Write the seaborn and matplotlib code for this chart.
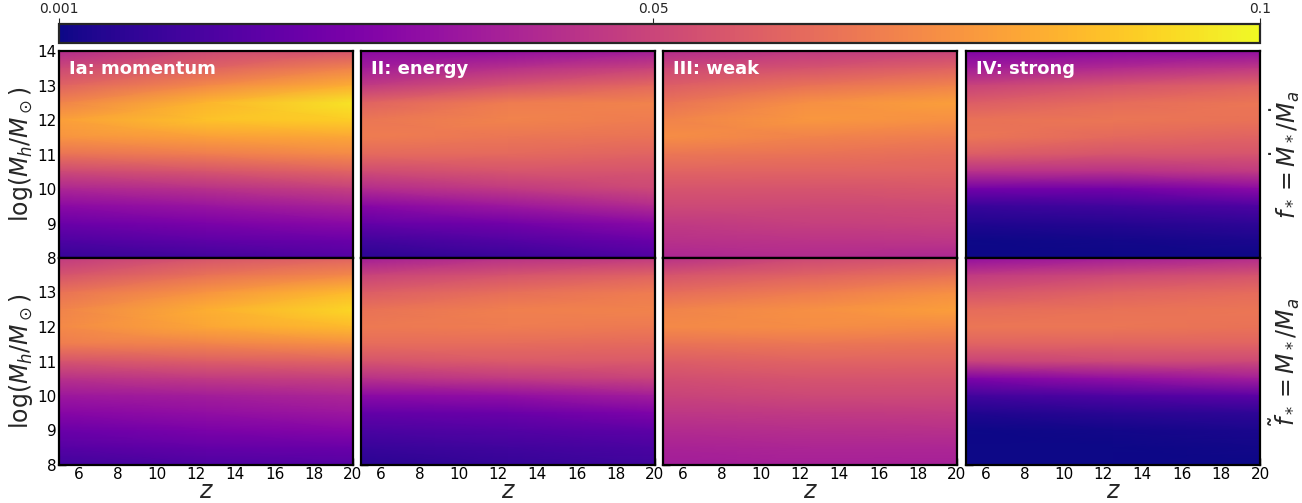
import numpy as np
import matplotlib
matplotlib.use("Agg")
import matplotlib.pyplot as plt
import seaborn as sns

sns.set_style("white")
plt.rcParams["font.family"] = ["DejaVu Sans"]
plt.rcParams["mathtext.fontset"] = "dejavusans"

# Grid nodes: redshift columns and halo-mass rows (log10 Mh, from 14 down to 8)
Z_NODES = [5.0, 12.5, 20.0]
LOGM_NODES = [14.0, 13.5, 13.0, 12.5, 12.0, 11.5, 11.0, 10.5, 10.0, 9.5, 9.0, 8.5, 8.0]

PANEL_TITLES = ["Ia: momentum", "II: energy", "III: weak", "IV: strong"]
ROW_LABELS = [r"$f_* = \dot{M}_*/\dot{M}_a$", r"$\tilde{f}_* = M_*/M_a$"]
CBAR_TICKS = [0.001, 0.05, 0.1]
CBAR_LABELS = ["0.001", "0.05", "0.1"]

# Instantaneous efficiency f_*: one list per redshift column (z = 5, 12.5, 20)
rate_ia = [
    [0.041, 0.051, 0.060, 0.070, 0.078, 0.075, 0.065, 0.051, 0.039, 0.029, 0.021, 0.014, 0.008],
    [0.051, 0.060, 0.072, 0.084, 0.087, 0.078, 0.068, 0.055, 0.043, 0.033, 0.025, 0.018, 0.011],
    [0.055, 0.070, 0.082, 0.095, 0.090, 0.080, 0.072, 0.060, 0.048, 0.038, 0.029, 0.021, 0.015],
]
rate_ii = [
    [0.029, 0.036, 0.046, 0.060, 0.066, 0.068, 0.062, 0.052, 0.041, 0.028, 0.019, 0.011, 0.006],
    [0.031, 0.043, 0.055, 0.068, 0.070, 0.066, 0.062, 0.055, 0.046, 0.034, 0.023, 0.015, 0.009],
    [0.036, 0.049, 0.062, 0.070, 0.068, 0.065, 0.060, 0.055, 0.051, 0.041, 0.029, 0.021, 0.014],
]
rate_iii = [
    [0.041, 0.051, 0.058, 0.065, 0.070, 0.073, 0.066, 0.060, 0.055, 0.051, 0.046, 0.043, 0.039],
    [0.046, 0.055, 0.065, 0.074, 0.076, 0.070, 0.065, 0.060, 0.055, 0.051, 0.048, 0.044, 0.041],
    [0.049, 0.060, 0.070, 0.078, 0.074, 0.068, 0.063, 0.060, 0.056, 0.052, 0.049, 0.045, 0.039],
]
rate_iv = [
    [0.026, 0.036, 0.049, 0.058, 0.065, 0.066, 0.058, 0.043, 0.023, 0.009, 0.004, 0.001, 0.001],
    [0.029, 0.041, 0.055, 0.063, 0.066, 0.062, 0.055, 0.043, 0.023, 0.011, 0.005, 0.002, 0.001],
    [0.031, 0.046, 0.060, 0.066, 0.065, 0.060, 0.055, 0.046, 0.029, 0.014, 0.007, 0.003, 0.001],
]

# Integrated efficiency M_* / M_a
cumul_ia = [
    [0.046, 0.055, 0.065, 0.070, 0.072, 0.068, 0.055, 0.043, 0.034, 0.028, 0.021, 0.016, 0.011],
    [0.055, 0.065, 0.075, 0.082, 0.080, 0.070, 0.058, 0.046, 0.036, 0.031, 0.025, 0.019, 0.014],
    [0.060, 0.072, 0.085, 0.092, 0.085, 0.073, 0.060, 0.048, 0.039, 0.034, 0.028, 0.021, 0.016],
]
cumul_ii = [
    [0.036, 0.049, 0.058, 0.065, 0.067, 0.063, 0.055, 0.043, 0.029, 0.019, 0.013, 0.009, 0.006],
    [0.043, 0.055, 0.064, 0.069, 0.068, 0.063, 0.057, 0.046, 0.031, 0.021, 0.015, 0.011, 0.008],
    [0.046, 0.060, 0.068, 0.070, 0.067, 0.062, 0.057, 0.049, 0.036, 0.026, 0.018, 0.013, 0.011],
]
cumul_iii = [
    [0.043, 0.055, 0.063, 0.070, 0.072, 0.065, 0.058, 0.053, 0.049, 0.045, 0.041, 0.038, 0.036],
    [0.051, 0.060, 0.068, 0.074, 0.073, 0.066, 0.060, 0.055, 0.051, 0.046, 0.042, 0.039, 0.037],
    [0.055, 0.065, 0.074, 0.078, 0.072, 0.065, 0.060, 0.055, 0.051, 0.047, 0.043, 0.039, 0.037],
]
cumul_iv = [
    [0.031, 0.046, 0.055, 0.063, 0.066, 0.060, 0.049, 0.026, 0.011, 0.004, 0.001, 0.001, 0.001],
    [0.036, 0.051, 0.060, 0.065, 0.066, 0.060, 0.051, 0.031, 0.014, 0.006, 0.002, 0.001, 0.001],
    [0.041, 0.055, 0.063, 0.066, 0.065, 0.060, 0.051, 0.036, 0.017, 0.007, 0.003, 0.002, 0.001],
]

ROWS = [
    [rate_ia, rate_ii, rate_iii, rate_iv],
    [cumul_ia, cumul_ii, cumul_iii, cumul_iv],
]

cmap = sns.color_palette("plasma", as_cmap=True)
norm = matplotlib.colors.Normalize(vmin=CBAR_TICKS[0], vmax=CBAR_TICKS[-1])

W, H = 1302, 503
fig = plt.figure(figsize=(W / 100, H / 100), dpi=100)

col_left = [59, 361, 663, 966]
panel_w = 294
row_top = [51, 258]
panel_h = 207

zz, mm = np.meshgrid(Z_NODES, LOGM_NODES)

for r, row in enumerate(ROWS):
    for c, grid in enumerate(row):
        x0 = col_left[c] / W
        y0 = 1 - (row_top[r] + panel_h) / H
        ax = fig.add_axes([x0, y0, panel_w / W, panel_h / H])
        vals = np.array(grid).T
        ax.pcolormesh(zz, mm, vals, cmap=cmap, norm=norm, shading="gouraud",
                      rasterized=True)
        ax.set_xlim(5, 20)
        ax.set_ylim(8, 14)
        for sp in ax.spines.values():
            sp.set_linewidth(1.6)
            sp.set_color("black")
        ax.tick_params(direction="in", length=5, width=1.0, colors="black",
                       labelsize=11, pad=1.5, left=True, bottom=True,
                       top=False, right=False)
        if r == 0:
            ax.set_xticks([7.5, 10, 12.5, 15, 17.5])
            ax.set_xticklabels([])
            ax.set_yticks([8, 9, 10, 11, 12, 13, 14])
            ax.text(0.035, 0.955, PANEL_TITLES[c], transform=ax.transAxes,
                    color="white", fontsize=13, fontweight="bold",
                    ha="left", va="top")
        else:
            ax.set_xticks([6, 8, 10, 12, 14, 16, 18, 20])
            ax.set_yticks([8, 9, 10, 11, 12, 13])
            ax.set_xlabel(r"$z$", fontsize=17, labelpad=-2)
        if c == 0:
            ax.set_ylabel(r"$\log(M_h/M_\odot)$", fontsize=17, labelpad=2)
        else:
            ax.set_yticklabels([])
        if c == 3:
            fig.text(1285 / W, 1 - (row_top[r] + panel_h / 2) / H, ROW_LABELS[r],
                     rotation=90, ha="center", va="center", fontsize=17)

# Shared colour bar across the top
cax = fig.add_axes([59 / W, 1 - 43 / H, 1201 / W, 19 / H])
sm = matplotlib.cm.ScalarMappable(norm=norm, cmap=cmap)
cb = fig.colorbar(sm, cax=cax, orientation="horizontal")
cb.set_ticks(CBAR_TICKS)
cb.set_ticklabels(CBAR_LABELS)
cax.xaxis.set_ticks_position("top")
cax.tick_params(direction="out", length=4, width=0.8, labelsize=10, pad=2)
cb.outline.set_linewidth(1.6)

fig.savefig("out.png", dpi=100)
